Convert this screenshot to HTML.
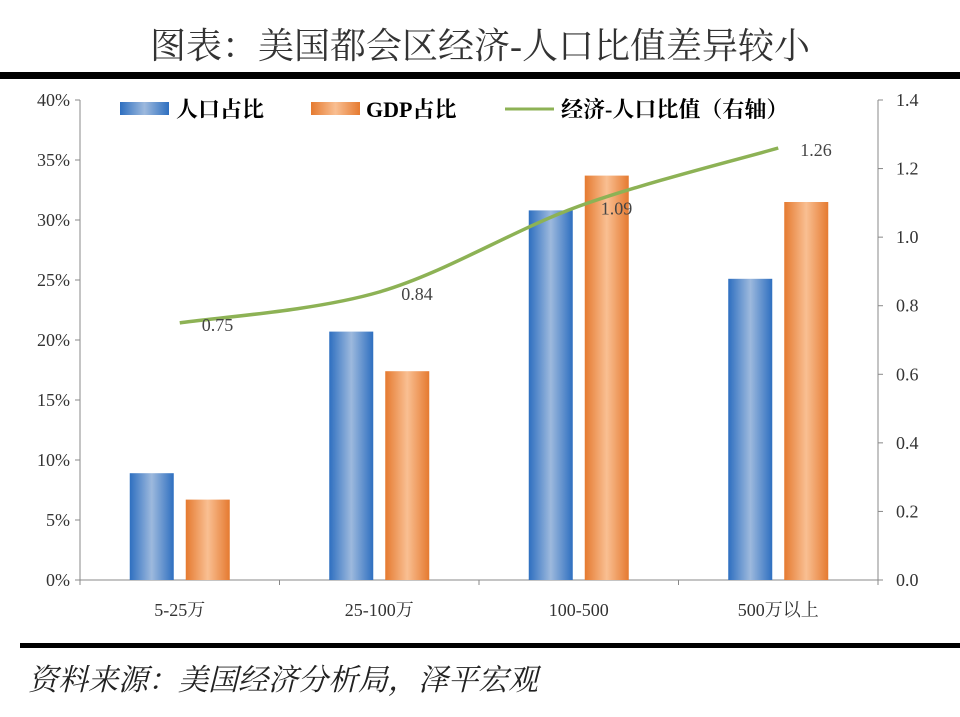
<!DOCTYPE html>
<html><head><meta charset="utf-8"><style>
body{margin:0;background:#fff;width:960px;height:712px;overflow:hidden;font-family:"Liberation Serif","Noto Serif CJK SC",serif}
</style></head><body>
<svg width="960" height="712" viewBox="0 0 960 712">
<defs>
<linearGradient id="gb" x1="0" x2="1"><stop offset="0" stop-color="#2e6fc0"/><stop offset="0.5" stop-color="#9db9dd"/><stop offset="1" stop-color="#2e6fc0"/></linearGradient>
<linearGradient id="go" x1="0" x2="1"><stop offset="0" stop-color="#e57a30"/><stop offset="0.5" stop-color="#f9bf92"/><stop offset="1" stop-color="#e57a30"/></linearGradient>
</defs>
<text x="480" y="58" text-anchor="middle" font-size="36" fill="#333" font-family="Liberation Serif,Noto Serif CJK SC,serif">图表：美国都会区经济-人口比值差异较小</text>
<rect x="0" y="72" width="960" height="7" fill="#000"/>
<rect x="20" y="643" width="940" height="5" fill="#000"/>
<text x="28" y="690" font-size="30" font-style="italic" fill="#222" font-family="Liberation Serif,Noto Serif CJK SC,serif">资料来源：美国经济分析局，泽平宏观</text>
<g id="axes"></g><g id="bars"></g><g id="line"></g>
<g font-size="22" font-weight="bold" font-family="Liberation Serif,Noto Serif CJK SC,serif">
<rect x="120" y="102" width="49" height="13" fill="url(#gb)"/>
<text x="176" y="117">人口占比</text>
<rect x="311" y="102" width="49" height="13" fill="url(#go)"/>
<text x="366" y="117">GDP占比</text>
<line x1="505" y1="109" x2="554" y2="109" stroke="#8db255" stroke-width="3"/>
<text x="561" y="117">经济-人口比值（右轴）</text>
</g>
</svg>
<script>
const categories=["5-25万","25-100万","100-500","500万以上"];
const popShare=[8.9,20.7,30.8,25.1];
const gdpShare=[6.7,17.4,33.7,31.5];
const ratio=[0.75,0.84,1.09,1.26];
const leftTicks=[0,5,10,15,20,25,30,35,40];
const rightTicks=[0,0.2,0.4,0.6,0.8,1.0,1.2,1.4];
const NS="http://www.w3.org/2000/svg";
const L=80,R=878,T=100,B=580;
const yL=v=>B-(v/40)*(B-T), yR=v=>B-(v/1.4)*(B-T);
const band=(R-L)/categories.length, cx=i=>L+band*(i+0.5);
function mk(tag,at,parent,txt){const e=document.createElementNS(NS,tag);for(const k in at)e.setAttribute(k,at[k]);if(txt!=null)e.textContent=txt;document.getElementById(parent).appendChild(e);return e;}
let e;
e=mk("line",{x1:L,y1:T,x2:L,y2:B,stroke:"#888"},"axes");


e=mk("line",{x1:R,y1:T,x2:R,y2:B,stroke:"#888"},"axes");


e=mk("line",{x1:L,y1:B,x2:R,y2:B,stroke:"#888"},"axes");


leftTicks.forEach(v=>{const y=yL(v);
 mk("line",{x1:L-5,y1:y,x2:L,y2:y,stroke:"#888"},"axes");
 e=mk("text",{x:L-10,y:y+6,"text-anchor":"end","font-size":18,fill:"#333"},"axes",v+"%");
 
 });
rightTicks.forEach(v=>{const y=yR(v);
 mk("line",{x1:R,y1:y,x2:R+5,y2:y,stroke:"#888"},"axes");
 e=mk("text",{x:R+18,y:y+6,"font-size":18,fill:"#333"},"axes",v.toFixed(1));
 
 });
for(let i=0;i<=categories.length;i++){mk("line",{x1:L+band*i,y1:B,x2:L+band*i,y2:B+5,stroke:"#888"},"axes");}
categories.forEach((c,i)=>{
 e=mk("text",{x:cx(i),y:B+36,"text-anchor":"middle","font-size":18,fill:"#333"},"axes",c);
 
 
 e=mk("rect",{x:cx(i)-50,y:yL(popShare[i]),width:44,height:B-yL(popShare[i]),fill:"url(#gb)"},"bars");
 
 
 e=mk("rect",{x:cx(i)+6,y:yL(gdpShare[i]),width:44,height:B-yL(gdpShare[i]),fill:"url(#go)"},"bars");
 
 
});
const pts=ratio.map((v,i)=>[cx(i),yR(v)]);
let d="M"+pts[0];
for(let i=0;i<pts.length-1;i++){const p0=pts[i-1]||pts[i],p1=pts[i],p2=pts[i+1],p3=pts[i+2]||p2;
 const c1=[p1[0]+(p2[0]-p0[0])/6,p1[1]+(p2[1]-p0[1])/6],c2=[p2[0]-(p3[0]-p1[0])/6,p2[1]-(p3[1]-p1[1])/6];
 d+=" C"+c1+" "+c2+" "+p2;}
e=mk("path",{d:d,fill:"none",stroke:"#8db255","stroke-width":3.5},"line");


ratio.forEach((v,i)=>{
 e=mk("text",{x:cx(i)+22,y:yR(v)+8,"text-anchor":"start","font-size":18,fill:"#444"},"line",v.toFixed(2));
 
 
});
</script>
</body></html>
